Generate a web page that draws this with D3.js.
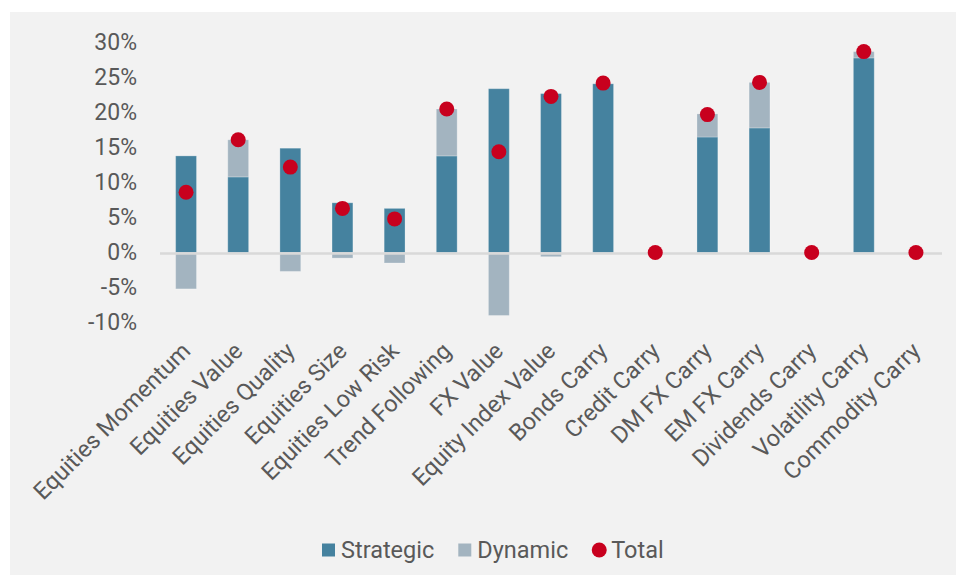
<!DOCTYPE html>
<html>
<head>
<meta charset="utf-8">
<script src="https://cdn.jsdelivr.net/npm/d3@7"></script>
<style>
  body { margin: 0; background: #fff; font-family: Roboto, "Open Sans", sans-serif; }
  text { fill: #595959; }
</style>
</head>
<body>
<div id="chart-container"></div>
<script>
const categories = [
  "Equities Momentum",
  "Equities Value",
  "Equities Quality",
  "Equities Size",
  "Equities Low Risk",
  "Trend Following",
  "FX Value",
  "Equity Index Value",
  "Bonds Carry",
  "Credit Carry",
  "DM FX Carry",
  "EM FX Carry",
  "Dividends Carry",
  "Volatility Carry",
  "Commodity Carry",
];
const strategic = [13.8, 10.8, 14.9, 7.1, 6.3, 13.8, 23.4, 22.7, 24.1, 0, 16.5, 17.8, 0, 27.8, 0];
const dynamic = [-5.2, 5.3, -2.7, -0.8, -1.5, 6.7, -9.0, -0.6, 0, 0, 3.3, 6.5, 0, 0.9, 0];
const total = [8.6, 16.1, 12.2, 6.3, 4.8, 20.5, 14.4, 22.3, 24.2, 0, 19.7, 24.3, 0, 28.7, 0];
const yTicks = [-10, -5, 0, 5, 10, 15, 20, 25, 30];

const colors = { strategic: "#45829f", dynamic: "#a3b4c0", total: "#c8001e" };

const W = 956, H = 580;
const margin = { top: 42.5, right: 14, bottom: 257.5, left: 160 };
const width = W - margin.left - margin.right;
const height = H - margin.top - margin.bottom;

const svg = d3
  .select("#chart-container")
  .append("svg")
  .attr("width", W)
  .attr("height", H);

// grey panel behind everything
svg.append("rect")
  .attr("x", 10).attr("y", 12)
  .attr("width", W - 10).attr("height", 563)
  .attr("fill", "#f2f2f2");

const chart = svg.append("g")
  .attr("transform", "translate(" + margin.left + "," + margin.top + ")");

const x = d3.scaleBand().domain(categories).range([0, width]).paddingInner(0.6).paddingOuter(0.3);
const y = d3.scaleLinear().domain([-10, 30]).range([height, 0]);

// y axis
chart.append("g")
  .call(d3.axisLeft(y).tickValues(yTicks).tickSize(0).tickPadding(23).tickFormat((d) => d + "%"))
  .call((g) => g.select(".domain").remove())
  .selectAll("text")
  .style("font-size", "23px")
  .style("font-family", "Roboto")
  .attr("fill", "#595959");

// stacked bars: strategic from 0, dynamic stacked on top (or below when negative)
const rows = categories.map((c, i) => ({ c, s: strategic[i], d: dynamic[i], t: total[i] }));

chart.selectAll(".strategic")
  .data(rows)
  .enter()
  .append("rect")
  .attr("class", "strategic")
  .attr("x", (d) => x(d.c))
  .attr("width", x.bandwidth())
  .attr("y", (d) => y(Math.max(0, d.s)))
  .attr("height", (d) => Math.abs(y(d.s) - y(0)))
  .attr("fill", colors.strategic)
  .attr("stroke", "#ffffff")
  .attr("stroke-opacity", 0.25)
  .attr("stroke-width", 1);

chart.selectAll(".dynamic")
  .data(rows)
  .enter()
  .append("rect")
  .attr("class", "dynamic")
  .attr("x", (d) => x(d.c))
  .attr("width", x.bandwidth())
  .attr("y", (d) => (d.d >= 0 ? y(d.s + d.d) : y(0)))
  .attr("height", (d) => Math.abs(y(d.d) - y(0)))
  .attr("fill", colors.dynamic)
  .attr("stroke", "#ffffff")
  .attr("stroke-opacity", 0.25)
  .attr("stroke-width", 1);

// zero line
chart.append("line")
  .attr("x1", 0).attr("x2", width)
  .attr("y1", y(0) + 1).attr("y2", y(0) + 1)
  .attr("stroke", "#d9d9d9")
  .attr("stroke-width", 2.5);

// total dots
chart.selectAll(".total")
  .data(rows)
  .enter()
  .append("circle")
  .attr("class", "total")
  .attr("cx", (d) => x(d.c) + x.bandwidth() / 2)
  .attr("cy", (d) => y(d.t))
  .attr("r", 7.5)
  .attr("fill", colors.total);

// category labels, rotated
chart.append("g")
  .attr("transform", "translate(0," + (height + 24) + ")")
  .call(d3.axisBottom(x).tickSize(0).tickPadding(0))
  .call((g) => g.select(".domain").remove())
  .selectAll("text")
  .style("font-size", "23.5px")
  .style("font-family", "Roboto")
  .attr("fill", "#595959")
  .attr("text-anchor", "end")
  .attr("dy", "0.35em")
  .attr("transform", "translate(0,0) rotate(-45)");

// legend
const legendItems = [
  { name: "Strategic", color: colors.strategic, shape: "rect" },
  { name: "Dynamic", color: colors.dynamic, shape: "rect" },
  { name: "Total", color: colors.total, shape: "circle" },
];
const legend = svg.append("g").attr("transform", "translate(0,550)");
let lx = 322;
legendItems.forEach((item) => {
  const g = legend.append("g").attr("transform", "translate(" + lx + ",0)");
  if (item.shape === "rect") {
    g.append("rect").attr("x", 0).attr("y", -6.5).attr("width", 13).attr("height", 13).attr("fill", item.color);
  } else {
    g.append("circle").attr("cx", 7).attr("cy", 0).attr("r", 7.5).attr("fill", item.color);
  }
  const t = g.append("text")
    .attr("x", 19)
    .attr("dy", "0.35em")
    .style("font-size", "23.5px")
    .style("font-family", "Roboto")
    .attr("fill", "#595959")
    .text(item.name);
  lx += 19 + t.node().getComputedTextLength() + 24;
});
</script>
</body>
</html>
